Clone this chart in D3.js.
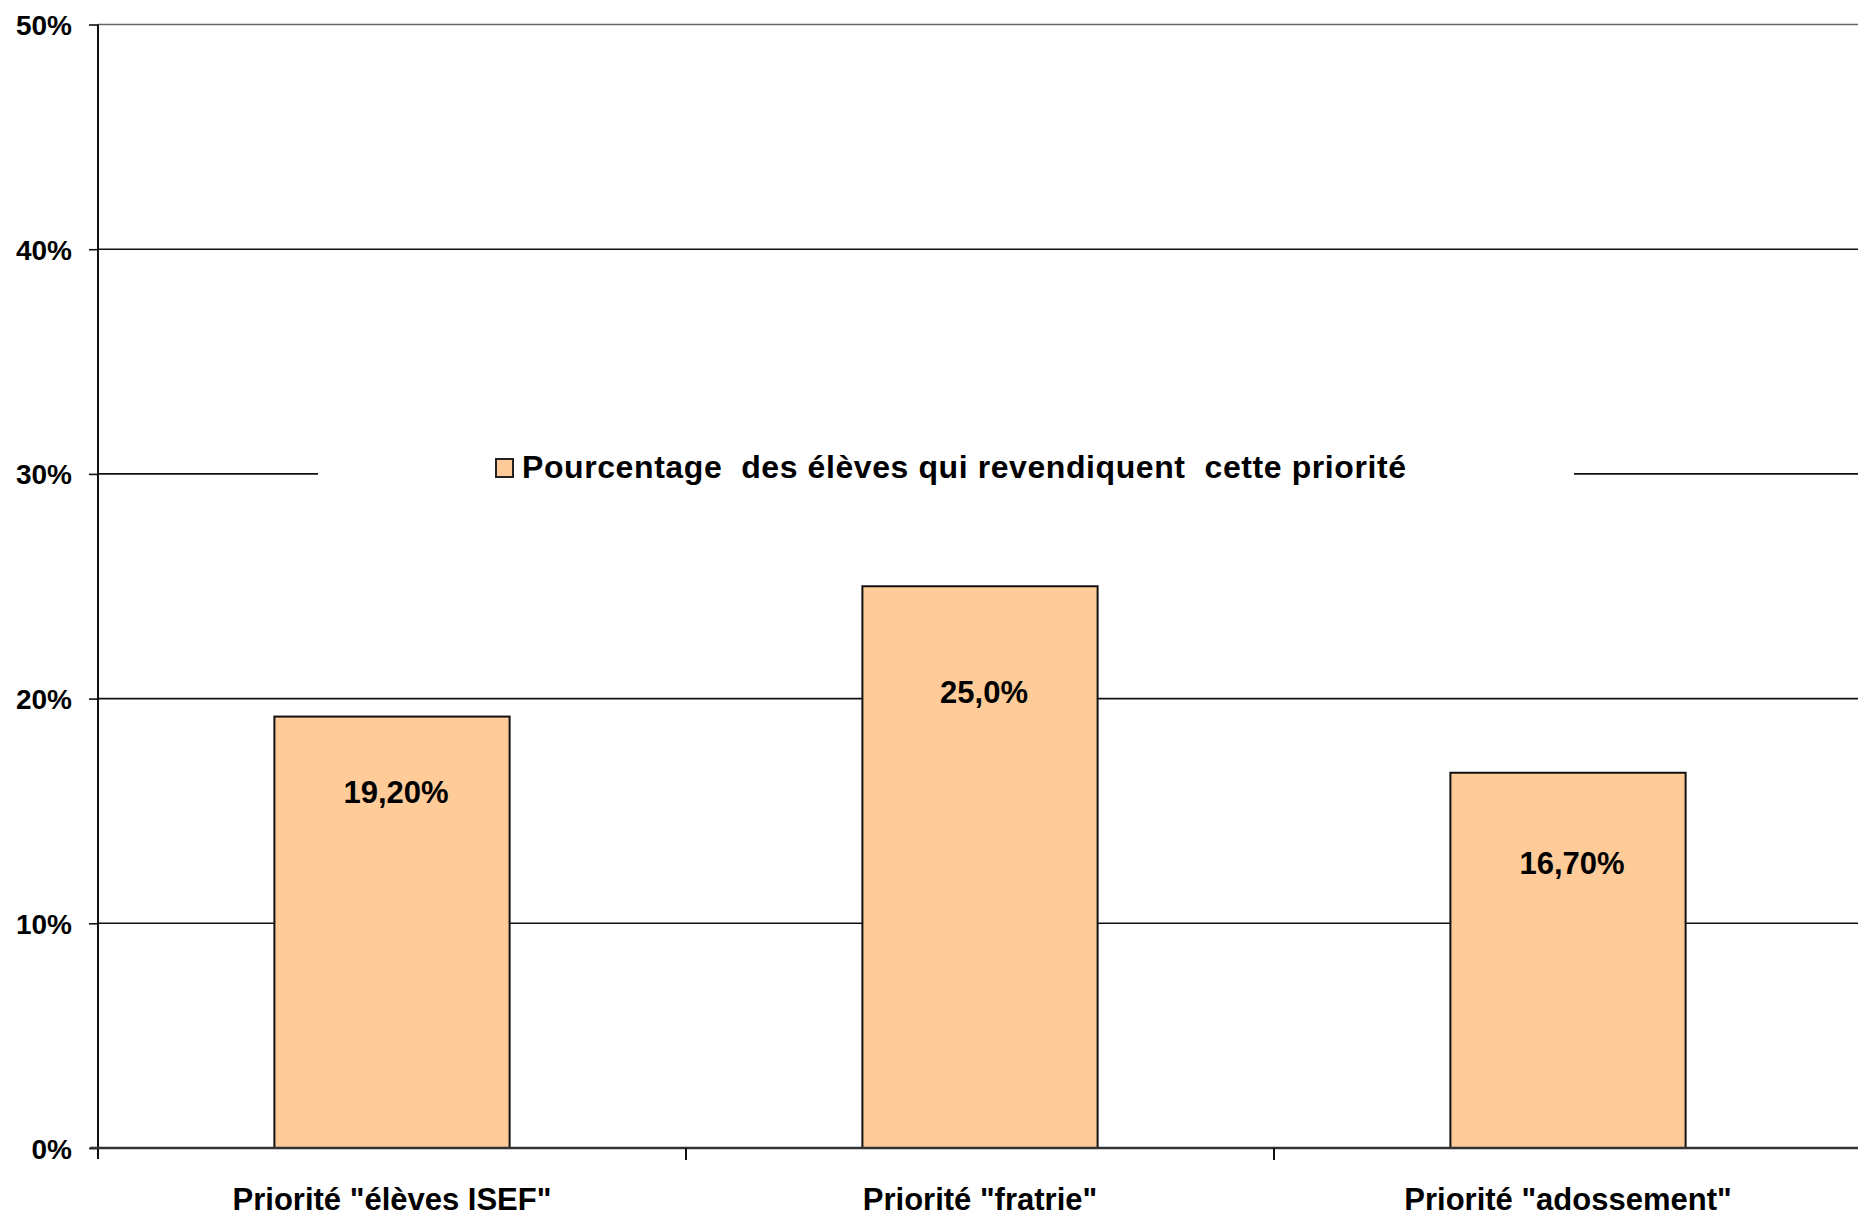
<!DOCTYPE html>
<html>
<head>
<meta charset="utf-8">
<script src="https://cdn.jsdelivr.net/npm/d3@7"></script>
<style>
  body { margin: 0; background: #fff; }
  text { font-family: "Liberation Sans", Arial, sans-serif; font-weight: bold; fill: #000; }
</style>
</head>
<body>
<svg width="1858" height="1218"></svg>
<script>
// data
var categories = ['Priorité "élèves ISEF"', 'Priorité "fratrie"', 'Priorité "adossement"'];
var values = [19.2, 25.0, 16.7];
var valueLabels = ["19,20%", "25,0%", "16,70%"];
var yTicks = [0, 10, 20, 30, 40, 50];
var seriesName = "Pourcentage  des élèves qui revendiquent  cette priorité";

var svg = d3.select("svg"),
	width = +svg.attr("width"),
	height = +svg.attr("height");

// label baseline distance below bar top (as in the original)
var labelDrop = [86, 117, 101];

var x = d3.scaleBand()
	.domain(categories)
	.range([98, 1862])
	.padding(0);

var y = d3.scaleLinear()
	.domain([0, 50])
	.range([1148, 24.5]);

var barW = x.bandwidth() * 0.4;

// gridlines
svg.append("g")
	.selectAll("line")
	.data(yTicks.filter(function (d) { return d > 0; }))
	.enter()
	.append("line")
	.attr("x1", x.range()[0])
	.attr("x2", width)
	.attr("y1", function (d) { return y(d); })
	.attr("y2", function (d) { return y(d); })
	.attr("stroke", function (d) { return d == 50 ? "#666" : "#111"; })
	.attr("stroke-width", 1.6);

// y axis
var yAxis = svg.append("g")
	.attr("transform", "translate(98,0)")
	.call(d3.axisLeft(y).tickValues(yTicks).tickSize(9).tickPadding(17)
		.tickFormat(function (d) { return d + "%"; }));
yAxis.select(".domain").remove();
yAxis.selectAll(".tick line").attr("stroke", "#111").attr("stroke-width", 1.6);
yAxis.selectAll("text")
	.style("font-size", "28px")
	.attr("dy", "0.36em")
	.attr("fill", "#000");
svg.append("line")
	.attr("x1", 98).attr("x2", 98)
	.attr("y1", y(50)).attr("y2", y(0) + 11)
	.attr("stroke", "#111").attr("stroke-width", 2);

// bars
svg.append("g")
	.selectAll("rect")
	.data(values)
	.enter()
	.append("rect")
	.attr("x", function (d, i) { return x(categories[i]) + (x.bandwidth() - barW) / 2; })
	.attr("y", function (d) { return y(d); })
	.attr("width", barW)
	.attr("height", function (d) { return y(0) - y(d); })
	.attr("fill", "#FFCC99")
	.attr("stroke", "#111")
	.attr("stroke-width", 2);

// value labels
svg.append("g")
	.selectAll("text")
	.data(values)
	.enter()
	.append("text")
	.attr("x", function (d, i) { return x(categories[i]) + x.bandwidth() / 2 + 4; })
	.attr("y", function (d, i) { return y(d) + labelDrop[i]; })
	.attr("text-anchor", "middle")
	.style("font-size", "31px")
	.text(function (d, i) { return valueLabels[i]; });

// x axis baseline + category ticks
svg.append("line")
	.attr("x1", 90).attr("x2", width)
	.attr("y1", y(0)).attr("y2", y(0))
	.attr("stroke", "#333").attr("stroke-width", 2.5);
svg.append("g")
	.selectAll("line")
	.data(categories.slice(1))
	.enter()
	.append("line")
	.attr("x1", function (d) { return x(d); })
	.attr("x2", function (d) { return x(d); })
	.attr("y1", y(0))
	.attr("y2", y(0) + 12)
	.attr("stroke", "#111").attr("stroke-width", 2);

svg.append("g")
	.selectAll("text")
	.data(categories)
	.enter()
	.append("text")
	.attr("x", function (d) { return x(d) + x.bandwidth() / 2; })
	.attr("y", 1210)
	.attr("text-anchor", "middle")
	.style("font-size", "31px")
	.text(function (d) { return d; });

// legend (white box over the 30% gridline)
var legend = svg.append("g");
legend.append("rect")
	.attr("x", 318).attr("y", y(30) - 30)
	.attr("width", 1574 - 318).attr("height", 60)
	.attr("fill", "#fff");
legend.append("rect")
	.attr("x", 496).attr("y", 459)
	.attr("width", 17).attr("height", 18)
	.attr("fill", "#FFCC99")
	.attr("stroke", "#222").attr("stroke-width", 2);
legend.append("text")
	.attr("x", 522).attr("y", 478)
	.style("font-size", "32px")
	.style("white-space", "pre")
	.attr("textLength", 884)
	.attr("lengthAdjust", "spacing")
	.text(seriesName);
</script>
</body>
</html>
